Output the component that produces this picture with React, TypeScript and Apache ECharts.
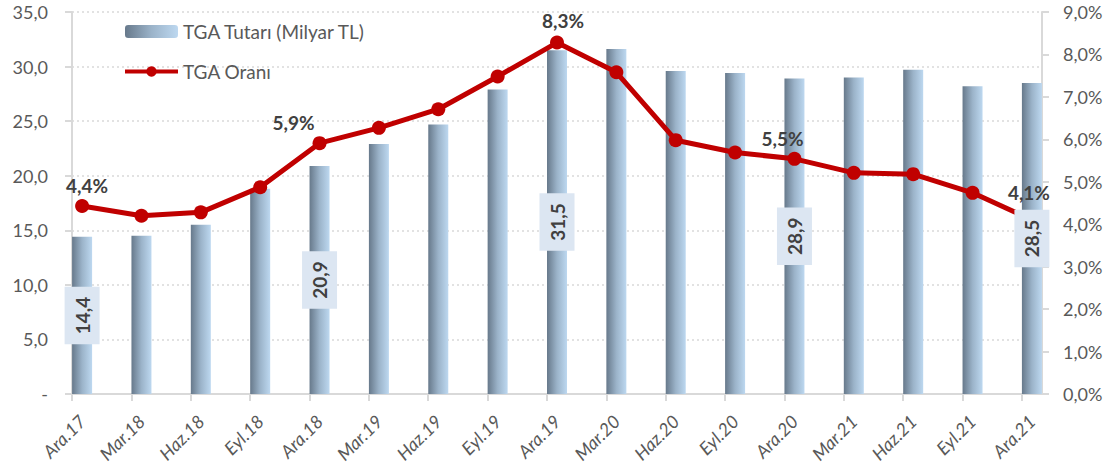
import React, { useEffect, useRef } from "react";
import * as echarts from "echarts";

const categories = ["Ara.17", "Mar.18", "Haz.18", "Eyl.18", "Ara.18", "Mar.19", "Haz.19", "Eyl.19", "Ara.19", "Mar.20", "Haz.20", "Eyl.20", "Ara.20", "Mar.21", "Haz.21", "Eyl.21", "Ara.21"];
const tgaAmount = [14.4, 14.5, 15.5, 18.8, 20.9, 22.9, 24.7, 27.9, 31.5, 31.6, 29.6, 29.4, 28.9, 29.0, 29.7, 28.2, 28.5];
const tgaRatio = [4.43, 4.2, 4.28, 4.87, 5.91, 6.27, 6.71, 7.48, 8.28, 7.58, 5.98, 5.69, 5.54, 5.21, 5.18, 4.74, 4.1];
const labeledIdx = [0, 4, 8, 12, 16];
const amountName = "TGA Tutarı (Milyar TL)";
const ratioName = "TGA Oranı";

// label nudges (style only)
const ratioLabelOffsets: Record<number, [number, number]> = {
  0: [5, 0],
  4: [-26, 0],
  8: [6, -2],
  12: [-12, 0],
  16: [-3, -7],
};

const FONT = "Lato, 'Open Sans', sans-serif";
const fmt1 = (v: number) => v.toFixed(1).replace(".", ",");

export default function App() {
  const ref = useRef<HTMLDivElement>(null);
  useEffect(() => {
    document.body.style.margin = "0";
    if (!ref.current) return;
    const chart = echarts.init(ref.current, null, { renderer: "svg" });
    const n = categories.length;
    const shift = 0.17; // category index shift of the tick marks
    const barGrad = new echarts.graphic.LinearGradient(0, 0, 1, 0, [
      { offset: 0, color: "#67798b" },
      { offset: 0.5, color: "#9bb3c9" },
      { offset: 1, color: "#bdd8f0" },
    ]);
    const option: any = {
      animation: false,
      textStyle: { fontFamily: FONT },
      grid: { left: 72, right: 71, top: 12, bottom: 81, containLabel: false },
      legend: {
        orient: "vertical",
        left: 118,
        top: 17,
        itemWidth: 53,
        itemHeight: 13,
        itemGap: 21,
        data: [
          { name: amountName },
          { name: ratioName, lineStyle: { width: 4 } },
        ],
        textStyle: { fontSize: 19, color: "#595959", fontFamily: FONT },
      },
      xAxis: {
        type: "value",
        min: -shift,
        max: n - 1 + shift,
        axisLine: { show: true, onZero: false, lineStyle: { color: "#d9d9d9", width: 2 } },
        axisTick: {
          show: true,
          length: 7,
          lineStyle: { color: "#d9d9d9", width: 2 },
          customValues: categories.map((_, i) => i - shift),
        },
        splitLine: { show: false },
        axisLabel: {
          customValues: categories.map((_, i) => i),
          formatter: (v: number) => categories[Math.round(v)] ?? "",
          rotate: 45,
          margin: 24,
          fontSize: 18,
          fontStyle: "italic",
          color: "#595959",
          fontFamily: FONT,
        },
      },
      yAxis: [
        {
          type: "value",
          min: 0,
          max: 35,
          interval: 5,
          axisLine: { show: true, onZero: false, lineStyle: { color: "#d9d9d9", width: 2 } },
          axisTick: { show: true, length: 7, lineStyle: { color: "#d9d9d9", width: 2 } },
          splitLine: { show: true, lineStyle: { color: "#d9d9d9", width: 1.5, type: [2, 3] } },
          axisLabel: {
            margin: 24,
            fontSize: 18,
            color: "#595959",
            fontFamily: FONT,
            formatter: (v: number) => (v === 0 ? "-" : fmt1(v)),
          },
        },
        {
          type: "value",
          position: "right",
          min: 0,
          max: 9,
          interval: 1,
          axisLine: { show: true, onZero: false, lineStyle: { color: "#d9d9d9", width: 2 } },
          axisTick: { show: true, length: 7, lineStyle: { color: "#d9d9d9", width: 2 } },
          splitLine: { show: false },
          axisLabel: {
            margin: 21,
            fontSize: 18,
            color: "#595959",
            fontFamily: FONT,
            formatter: (v: number) => fmt1(v) + "%",
          },
        },
      ],
      series: [
        {
          name: amountName,
          type: "bar",
          xAxisIndex: 0,
          yAxisIndex: 0,
          barWidth: 20,
          z: 1,
          itemStyle: { color: barGrad },
          data: tgaAmount.map((v, i) => [i, v]),
        },
        {
          name: ratioName,
          type: "line",
          xAxisIndex: 0,
          yAxisIndex: 1,
          z: 3,
          symbol: "circle",
          symbolSize: 14,
          lineStyle: { color: "#c00000", width: 5 },
          itemStyle: { color: "#c00000" },
          data: tgaRatio.map((v, i) => ({
            value: [i, v],
            label: labeledIdx.includes(i)
              ? {
                  show: true,
                  position: "top",
                  distance: 4,
                  offset: ratioLabelOffsets[i] || [0, 0],
                  formatter: () => fmt1(v) + "%",
                  fontSize: 19,
                  fontWeight: "bold",
                  color: "#404040",
                  fontFamily: FONT,
                }
              : { show: false },
          })),
        },
        {
          name: "amount-labels",
          type: "bar",
          xAxisIndex: 0,
          yAxisIndex: 0,
          barWidth: 20,
          barGap: "-100%",
          z: 5,
          silent: true,
          itemStyle: { color: "rgba(0,0,0,0)" },
          data: tgaAmount.map((v, i) => ({
            value: [i, v],
            label: labeledIdx.includes(i)
              ? {
                  show: true,
                  position: "inside",
                  rotate: 90,
                  formatter: () => fmt1(v),
                  fontSize: 19,
                  fontWeight: "bold",
                  color: "#404040",
                  fontFamily: FONT,
                  backgroundColor: "#dce6f2",
                  padding: [8, 10, 8, 10],
                }
              : { show: false },
          })),
        },
      ],
    };
    chart.setOption(option);
    return () => chart.dispose();
  }, []);
  return <div ref={ref} style={{ width: 1113, height: 475 }} />;
}
